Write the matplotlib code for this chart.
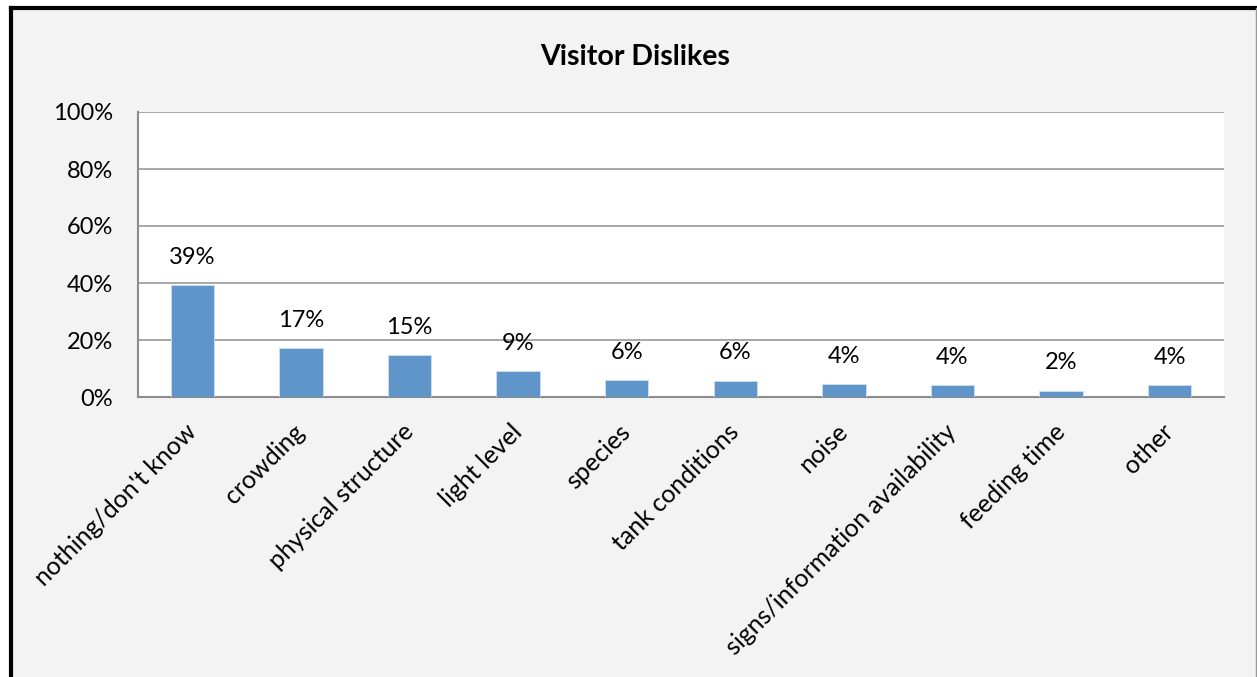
import matplotlib
matplotlib.use("Agg")
import matplotlib.pyplot as plt
from matplotlib.patches import Rectangle
from matplotlib.lines import Line2D
from matplotlib.transforms import ScaledTranslation
import numpy as np

plt.rcParams["font.family"] = ["Lato", "DejaVu Sans"]

categories = ["nothing/don't know", "crowding", "physical structure", "light level", "species",
              "tank conditions", "noise", "signs/information availability", "feeding time", "other"]
shares = [39.3, 17.1, 14.6, 9.0, 6.0, 5.7, 4.4, 4.1, 2.2, 4.1]   # percent of visitors
yticks = [0, 20, 40, 60, 80, 100]

W, H = 1257, 677
fig = plt.figure(figsize=(W/100, H/100), dpi=100, facecolor="white")

# chart frame: grey panel, heavy black edge on left/top, thin grey edge on right
fig.patches.append(Rectangle((11/W, 0), (W-11)/W, 1-8/H, transform=fig.transFigure,
                             facecolor="#f3f3f3", edgecolor="none", zorder=-5))
fig.lines.append(Line2D([11/W, 11/W], [-0.01, 1-8/H], transform=fig.transFigure, color="black", lw=3))
fig.lines.append(Line2D([11/W, 1.01], [1-8/H, 1-8/H], transform=fig.transFigure, color="black", lw=3))
fig.lines.append(Line2D([1255.5/W, 1255.5/W], [-0.01, 1-8/H], transform=fig.transFigure, color="#999999", lw=1))

ax = fig.add_axes([138/W, 1-397/H, (1224-138)/W, (397-112)/H])
ax.set_facecolor("white")
x = np.arange(len(categories))
bars = ax.bar(x, shares, width=0.4, color="#5f95c9", edgecolor="#cfe0f0", linewidth=0.6, zorder=3)

for xi, v in zip(x, shares):
    ax.annotate(f"{v:.0f}%", (xi, v), xytext=(0, 20), textcoords="offset points",
                ha="center", va="center", fontsize=17, color="black")

ax.set_xlim(-0.5, len(categories)-0.5)
ax.set_ylim(0, 100)
ax.set_yticks(yticks)
ax.set_yticklabels([f"{t}%" for t in yticks], fontsize=17)
ax.yaxis.grid(True, color="#a0a0a0", lw=1.3, zorder=0)
ax.set_axisbelow(True)
ax.tick_params(axis="y", length=0, pad=18)
ax.tick_params(axis="x", length=0, pad=10)
ax.set_xticks(x)
ax.set_xticklabels(categories, rotation=45, ha="right", va="top", rotation_mode="anchor", fontsize=18)
# nudge the slanted category labels down-left a little
shift = ScaledTranslation(-0.08, -0.09, fig.dpi_scale_trans)
for lbl in ax.get_xticklabels():
    lbl.set_transform(lbl.get_transform() + shift)
for s in ["top", "right"]:
    ax.spines[s].set_visible(False)
for s in ["left", "bottom"]:
    ax.spines[s].set_color("#8c8c8c")
    ax.spines[s].set_linewidth(1.5)

fig.text(635/W, 1-57/H, "Visitor Dislikes", ha="center", va="center", fontsize=20.5, fontweight="bold")

fig.savefig("out.png", dpi=100, facecolor=fig.get_facecolor())
